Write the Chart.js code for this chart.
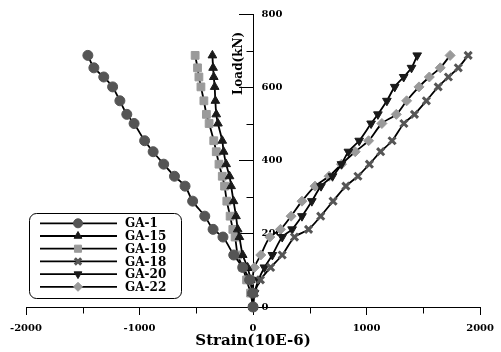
<!DOCTYPE html>
<html lang="en">
<head>
<meta charset="UTF-8">
<title>Load - Strain</title>
<style>
  html, body { margin: 0; padding: 0; background: #fff; }
  #wrap { width: 501px; height: 352px; }
</style>
</head>
<body>
<div id="wrap"><canvas id="strainChart" width="501" height="352"></canvas></div>
<script src="https://cdn.jsdelivr.net/npm/chart.js"></script>
<script>
// load steps (kN), shared by every gauge
const loads = [0, 38, 74, 108, 142, 191, 212, 248, 289, 330, 357, 390, 424, 454, 501, 526, 563, 601, 628, 653, 687];

// strain readings (10E-6) per gauge, same order as loads
const ga1  = [0, -4, -30, -91, -170, -265, -352, -425, -532, -599, -692, -787, -880, -955, -1048, -1112, -1173, -1237, -1315, -1402, -1455];
const ga15 = [0, -8, -22, -48, -91, -120, -135, -150, -172, -193, -207, -237, -259, -271, -309, -324, -332, -338, -346, -352, -358];
const ga19 = [0, -22, -57, -91, -135, -158, -178, -202, -231, -251, -271, -300, -324, -346, -387, -411, -433, -459, -477, -489, -510];
const ga18 = [0, 13, 65, 155, 257, 365, 489, 596, 705, 818, 924, 1025, 1124, 1225, 1329, 1422, 1527, 1631, 1721, 1808, 1895];
const ga20 = [0, 13, 48, 100, 170, 257, 344, 431, 518, 599, 700, 779, 840, 935, 1040, 1100, 1179, 1248, 1327, 1396, 1446];
const ga22 = [0, -10, -5, 12, 68, 148, 242, 335, 431, 546, 670, 779, 900, 1018, 1135, 1262, 1353, 1462, 1553, 1649, 1736];

const seriesNames = ['GA-1', 'GA-15', 'GA-19', 'GA-18', 'GA-20', 'GA-22'];
const seriesValues = [ga1, ga15, ga19, ga18, ga20, ga22];

const yLabels = [0, 200, 400, 600, 800];
const yMinor = [100, 300, 500, 700];
const xMinor = [-1500, -500, 500, 1500];

// marker look for each gauge
const markers = [
  { pointStyle: 'circle',   radius: 5,   color: '#555555', borderWidth: 1, rotation: 0 },
  { pointStyle: 'triangle', radius: 5,   color: '#1a1a1a', borderWidth: 1, rotation: 0 },
  { pointStyle: 'rect',     radius: 5.5, color: '#9a9a9a', borderWidth: 1, rotation: 0 },
  { pointStyle: 'crossRot', radius: 5,   color: '#555555', borderWidth: 3, rotation: 0 },
  { pointStyle: 'triangle', radius: 5,   color: '#1a1a1a', borderWidth: 1, rotation: 180 },
  { pointStyle: 'rectRot',  radius: 5,   color: '#9a9a9a', borderWidth: 1, rotation: 0 }
];

const FONT = '"DejaVu Serif", "Liberation Serif", serif';

const datasets = seriesNames.map((name, i) => {
  const m = markers[i];
  return {
    label: name,
    data: seriesValues[i].map((v, k) => ({ x: v, y: loads[k] })),
    showLine: true,
    borderColor: '#000',
    borderWidth: 1.8,
    tension: 0.3,
    pointStyle: m.pointStyle,
    pointRadius: m.radius,
    pointRotation: m.rotation,
    pointBackgroundColor: m.color,
    pointBorderColor: m.color,
    pointBorderWidth: m.borderWidth,
    clip: false
  };
});

function strokeLine(ctx, x1, y1, x2, y2) {
  ctx.beginPath();
  ctx.moveTo(x1, y1);
  ctx.lineTo(x2, y2);
  ctx.stroke();
}

// minor ticks, y labels on the right of the axis, y title
const axisExtras = {
  id: 'axisExtras',
  beforeDatasetsDraw(chart) {
    const { ctx, scales: { x, y } } = chart;
    const x0 = Math.round(x.getPixelForValue(0)) + 0.5;
    const yb = Math.round(y.getPixelForValue(0)) + 0.5;
    ctx.save();
    ctx.strokeStyle = '#000';
    ctx.lineWidth = 1;
    yMinor.forEach(v => {
      const p = Math.round(y.getPixelForValue(v)) + 0.5;
      strokeLine(ctx, x0 - 7, p, x0, p);
    });
    xMinor.forEach(v => {
      const p = Math.round(x.getPixelForValue(v)) + 0.5;
      strokeLine(ctx, p, yb, p, yb + 6);
    });

    ctx.fillStyle = '#000';
    ctx.font = 'bold 10px ' + FONT;
    ctx.textAlign = 'left';
    ctx.textBaseline = 'middle';
    yLabels.forEach(v => ctx.fillText(String(v), x0 + 8, y.getPixelForValue(v)));

    ctx.translate(x0 - 15, y.getPixelForValue(665));
    ctx.rotate(-Math.PI / 2);
    ctx.textAlign = 'center';
    ctx.font = 'bold 12px ' + FONT;
    ctx.fillText('Load(kN)', 0, 0);
    ctx.restore();
  },
  afterDatasetsDraw(chart) {
    const { ctx } = chart;
    const h = Chart.helpers;
    ctx.save();
    // legend box
    ctx.beginPath();
    ctx.roundRect(29.5, 213.5, 152, 85, 7);
    ctx.fillStyle = '#fff';
    ctx.fill();
    ctx.strokeStyle = '#000';
    ctx.lineWidth = 1;
    ctx.stroke();

    seriesNames.forEach((name, i) => {
      const ry = 223.3 + i * 12.7;
      ctx.strokeStyle = '#000';
      ctx.lineWidth = 1.8;
      strokeLine(ctx, 40, ry, 117, ry);
      const m = markers[i];
      ctx.fillStyle = m.color;
      ctx.strokeStyle = m.color;
      ctx.lineWidth = m.borderWidth;
      h.drawPoint(ctx, { pointStyle: m.pointStyle, radius: m.radius - 0.5, rotation: m.rotation, borderWidth: m.borderWidth }, 78, ry);
      ctx.fillStyle = '#000';
      ctx.font = 'bold 12px ' + FONT;
      ctx.textAlign = 'left';
      ctx.textBaseline = 'middle';
      ctx.fillText(name, 125, ry + 1);
    });
    ctx.restore();
  }
};

new Chart(document.getElementById('strainChart').getContext('2d'), {
  type: 'scatter',
  data: { datasets: datasets },
  options: {
    responsive: false,
    animation: false,
    devicePixelRatio: 1,
    layout: { padding: { left: 26, right: 15, top: 14, bottom: 0 } },
    plugins: {
      legend: { display: false },
      tooltip: { enabled: false }
    },
    scales: {
      x: {
        type: 'linear',
        position: 'bottom',
        min: -2000,
        max: 2000,
        afterFit: s => { s.height = 45; },
        ticks: {
          stepSize: 1000,
          color: '#000',
          padding: 7,
          maxRotation: 0,
          callback: v => String(v),
          font: { family: FONT, size: 10, weight: 'bold' }
        },
        grid: { drawOnChartArea: false, tickLength: 8, color: '#000' },
        border: { color: '#000', width: 1 },
        title: {
          display: true,
          text: 'Strain(10E-6)',
          color: '#000',
          padding: { top: 0, bottom: 2 },
          font: { family: FONT, size: 15, weight: 'bold' }
        }
      },
      y: {
        type: 'linear',
        position: { x: 0 },
        min: 0,
        max: 800,
        ticks: { stepSize: 200, display: false },
        grid: { drawOnChartArea: false, tickLength: 14, color: '#000' },
        border: { color: '#000', width: 1 }
      }
    }
  },
  plugins: [axisExtras]
});
</script>
</body>
</html>
